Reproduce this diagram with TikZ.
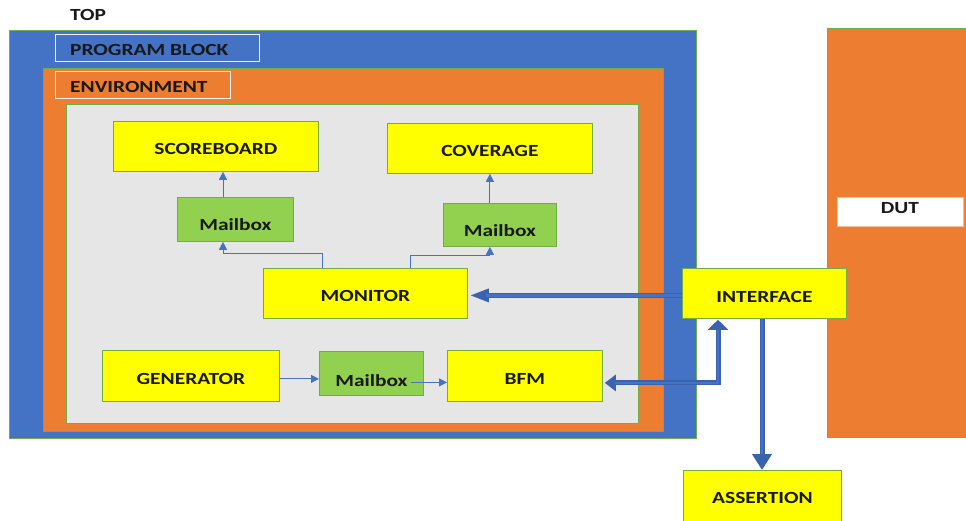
\documentclass[tikz,border=0pt]{standalone}
\usepackage{fontspec}
\setmainfont{Carlito}[FakeStretch=1.26]
\usetikzlibrary{arrows.meta,calc}
\definecolor{pblue}{HTML}{4472C4}
\definecolor{porange}{HTML}{ED7D31}
\definecolor{pgrey}{HTML}{E7E6E6}
\definecolor{pyellow}{HTML}{FFFF00}
\definecolor{pgreen}{HTML}{92D050}
\definecolor{pedge}{HTML}{70AD47}
\definecolor{arrblue}{HTML}{4472C4}
\definecolor{darkblue}{HTML}{3A62AE}
\tikzset{
  every node/.style={font=\fontsize{17}{19}\selectfont\bfseries, text=black!90, inner sep=0pt},
  container/.style={draw=pedge, line width=0.8pt, anchor=north west},
  ybox/.style={draw=pedge, line width=0.8pt, fill=pyellow, anchor=north west},
  gbox/.style={draw=pedge, line width=0.8pt, fill=pgreen, anchor=north west},
  lblbox/.style={draw=white!90!gray, line width=1pt, anchor=north west},
  thinarr/.style={draw=arrblue, line width=1pt, -{Triangle[length=8pt,width=8pt]}},
  thickarr/.style={draw=darkblue, line width=5pt},
}
\begin{document}
\begin{tikzpicture}[x=1pt,y=-1pt]
\clip (0,0) rectangle (966,520);
\fill[white] (0,0) rectangle (966,520);

% containers
\node[container, fill=pblue, minimum width=687, minimum height=408] (prog) at (9,30) {};
\node[container, fill=porange, minimum width=620, minimum height=363] (env) at (43,68) {};
\node[container, fill=pgrey, minimum width=572, minimum height=319] (inner) at (66,104) {};
\node[container, fill=porange, minimum width=150, minimum height=409] (dutbg) at (827,28) {};

% labels
\node[anchor=west] (top) at (70,15) {TOP};
\node[lblbox, minimum width=204, minimum height=27] (pblbl) at (55,34) {};
\node[anchor=west] at ($(pblbl.west)+(15,2)$) {PROGRAM BLOCK};
\node[lblbox, minimum width=175, minimum height=27] (envlbl) at (55,71) {};
\node[anchor=west] at ($(envlbl.west)+(15,2)$) {ENVIRONMENT};
\node[anchor=north west, fill=white, draw=porange!50!white, line width=0.8pt, minimum width=126, minimum height=29] (dut) at (837,197) {};
\node (duttext) at (900,208) {DUT};

% boxes
\node[ybox, minimum width=205, minimum height=50] (sb) at (113,121) {};
\node at ($(sb.center)+(0,3)$) {SCOREBOARD};
\node[ybox, minimum width=205, minimum height=50] (cov) at (387,123) {};
\node at ($(cov.center)+(0,3)$) {COVERAGE};
\node[gbox, minimum width=116, minimum height=44] (mb1) at (177,197) {};
\node at ($(mb1.center)+(0,5)$) {Mailbox};
\node[gbox, minimum width=113, minimum height=43] (mb2) at (443,203) {};
\node at ($(mb2.center)+(0,6)$) {Mailbox};
\node[ybox, minimum width=204, minimum height=50] (mon) at (263,268) {};
\node at ($(mon.center)+(0,3)$) {MONITOR};
\node[ybox, minimum width=164, minimum height=50] (intf) at (682,268) {};
\node at ($(intf.center)+(0,4)$) {INTERFACE};
\node[ybox, minimum width=177, minimum height=51] (gen) at (102,350) {};
\node at ($(gen.center)+(0,3)$) {GENERATOR};
\node[gbox, minimum width=104, minimum height=44] (mb3) at (319,351) {};
\node at ($(mb3.center)+(0,7)$) {Mailbox};
\node[ybox, minimum width=155, minimum height=51] (bfm) at (447,350) {};
\node at ($(bfm.center)+(0,3)$) {BFM};
\node[ybox, minimum width=158, minimum height=60] (asr) at (683,470) {};
\node at ($(asr.north)+(0,28)$) {ASSERTION};

% thin connectors
\coordinate (a1) at ($(mb1.north west)+(46,0)$);
\draw[thinarr] (a1) -- (a1 |- sb.south);
\draw[thinarr] (mb2.north -| cov.south) -- (cov.south);
\coordinate (m1) at ($(mon.north west)+(59,0)$);
\draw[thinarr] (m1) -- ++(0,-15) -| (a1 |- mb1.south);
\coordinate (m2) at ($(mon.north west)+(147,0)$);
\draw[thinarr] (m2) -- ++(0,-13) -| (mb2.south -| cov.south);
\coordinate (g1) at ($(gen.east)+(0,3)$);
\draw[thinarr] (g1) -- (g1 -| mb3.west);
\coordinate (b1) at ($(mb3.east)+(-13,9)$);
\draw[thinarr] (b1) -- (b1 -| bfm.west);

% thick connectors
\coordinate (i1) at ($(intf.west)+(0,2)$);
\draw[thickarr, -{Triangle[length=18pt,width=14pt,line width=0pt]}] (i1) -- ($(i1 -| mon.east)+(3,0)$);
\draw[arrblue, line width=2.5pt] (i1) -- ($(i1 -| mon.east)+(18,0)$);
\coordinate (i2) at ($(intf.south west)+(36,0)$);
\coordinate (b2) at ($(bfm.east)+(0,7)$);
\draw[thickarr, {Triangle[length=11pt,width=16pt]}-{Triangle[length=10pt,width=20pt]}] ($(b2)+(2,0)$) -| ($(i2)+(0,1)$);
\draw[arrblue, line width=2.5pt] ($(b2)+(12,0)$) -| ($(i2)+(0,11)$);
\coordinate (i3) at ($(intf.south west)+(80,0)$);
\draw[thickarr, -{Triangle[length=16pt,width=19pt]}] (i3) -- (i3 |- asr.north);
\draw[arrblue, line width=2.5pt] (i3) -- ($(i3 |- asr.north)+(0,-16)$);
\end{tikzpicture}
\end{document}
